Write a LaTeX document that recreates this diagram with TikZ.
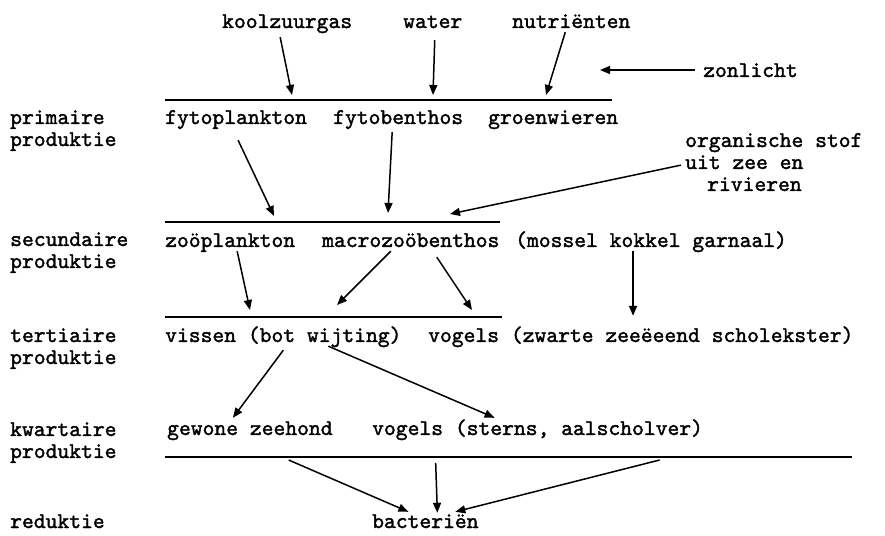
\documentclass[tikz,border=0pt]{standalone}
\usepackage{fontspec}
\newfontfamily\typewr{lmmono10-regular.otf}[FakeBold=1.6]
\usetikzlibrary{arrows.meta,calc}

\begin{document}
\begin{tikzpicture}[x=1pt, y=1pt, >={Triangle[length=10pt,width=8pt]},
  txt/.style={anchor=base west, inner sep=0pt, text height=12pt, text depth=4pt,
    font=\typewr\fontsize{22.5}{22}\selectfont},
  stage/.style={anchor=base west, inner sep=0pt, align=left,
    font=\typewr\fontsize{22.5}{22}\selectfont},
  level/.style={line width=1.7pt},
  flow/.style={->, line width=1.5pt}]

\useasboundingbox (0,0) rectangle (885,535);

%% Stage labels (left column), placed at the baseline of the last line
\node[stage] (prim) at (10,389) {primaire\\produktie};
\node[stage] (sec)  at (10,267) {secundaire\\produktie};
\node[stage] (ter)  at (10,171) {tertiaire\\produktie};
\node[stage] (kwa)  at (10,77)  {kwartaire\\produktie};
\node[txt] (red) at (10,7) {reduktie};

%% Inputs
\node[txt] (kool) at (222,507) {koolzuurgas};
\node[txt] (water) at (403,507) {water};
\node[txt] (nutr) at (512,507) {nutriënten};
\node[txt] (zon) at (703,458) {zonlicht};
\node[stage] (org) at (685,344) {organische stof\\uit zee en\\\hspace*{22pt}rivieren};

%% Level lines
\draw[level] (165,435) -- (612,435);
\draw[level] (165,313) -- (500,313);
\draw[level] (165,218) -- (502,218);
\draw[level] (165,78) coordinate (l4w) -- (852,78) coordinate (l4e);

%% Primary
\node[txt] (fytopl) at (165,411) {fytoplankton};
\node[txt] (fytob) at (333,411) {fytobenthos};
\node[txt] (groen) at (488,411) {groenwieren};

%% Secondary
\node[txt] (zoopl) at (165,288) {zoöplankton};
\node[txt] (macro) at (322,288) {macrozoöbenthos};
\node[txt] (mossel) at (515,288) {(mossel kokkel garnaal)};

%% Tertiary
\node[txt] (vissen) at (165,193) {vissen (bot wijting)};
\node[txt] (vogz) at (428,193) {vogels (zwarte zeeëeend scholekster)};

%% Quaternary
\node[txt] (zeeh) at (167,100) {gewone zeehond};
\node[txt] (vogs) at (372,100) {vogels (sterns, aalscholver)};

%% Reduction
\node[txt] (bact) at (372,7) {bacteriën};

%% Arrow tips on the level lines
\coordinate (tKool) at (292,440);
\coordinate (tWater) at (433,440);
\coordinate (tNutr) at (546,440);
\coordinate (tZon) at (600,465);
\coordinate (tFytopl) at (274,319);
\coordinate (tFytob) at (388,322);
\coordinate (tOrg) at (450,321);
\coordinate (tZoopl) at (250,225);
\coordinate (tMacroA) at (337,230);
\coordinate (tMacroB) at (472,225);

%% Arrows
\draw[flow] ([xshift=-7pt,yshift=-5pt]kool.south) -- (tKool);
\draw[flow] ([xshift=2pt,yshift=-8pt]water.south) -- (tWater);
\draw[flow] ([xshift=-6pt]nutr.south) -- (tNutr);
\draw[flow] ([xshift=-8pt,yshift=3pt]zon.west) -- (tZon);

\draw[flow] ([xshift=2pt,yshift=-12pt]fytopl.south) -- (tFytopl);
\draw[flow] ([xshift=-6pt,yshift=-4pt]fytob.south) -- (tFytob);
\draw[flow] ([xshift=-4pt,yshift=-3pt]org.west) -- (tOrg);

\draw[flow] ([xshift=7pt]zoopl.south) -- (tZoopl);
\draw[flow] ([xshift=-20pt]macro.south) -- (tMacroA);
\draw[flow] ([xshift=26pt,yshift=-6pt]macro.south) -- (tMacroB);
\draw[flow] ([xshift=-18pt]mossel.south) -- ([xshift=-18pt,yshift=14pt]mossel.south |- vogz.north);

\draw[flow] ([yshift=-4pt]vissen.south) -- ([xshift=-17pt,yshift=5pt]zeeh.north);
\draw[flow] ([xshift=45pt]vissen.south) -- ([xshift=-43pt,yshift=5pt]vogs.north);

\draw[flow] ($(l4w)!0.18!(l4e)+(0,-3)$) -- ([xshift=-17pt,yshift=4pt]bact.north);
\draw[flow] ($(l4w)!0.394!(l4e)+(0,-6)$) -- ([xshift=12pt,yshift=3pt]bact.north);
\draw[flow] ($(l4w)!0.72!(l4e)+(0,-3)$) -- ([xshift=30pt,yshift=4pt]bact.north);

\end{tikzpicture}
\end{document}
